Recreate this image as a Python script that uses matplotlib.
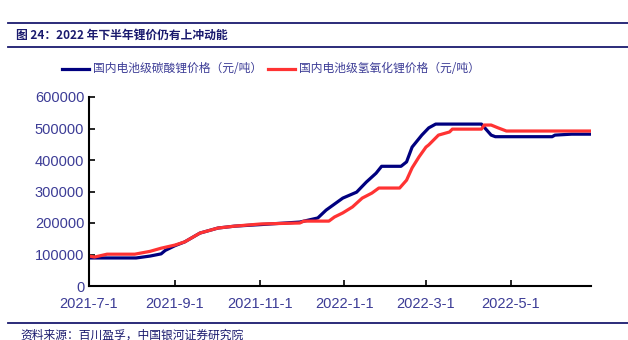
import matplotlib
matplotlib.use("Agg")
import matplotlib.pyplot as plt
import pandas as pd
from matplotlib.lines import Line2D

plt.rcParams['font.family'] = ['Liberation Sans', 'Noto Sans CJK SC', 'DejaVu Sans']

# 国内电池级碳酸锂价格 (元/吨)
carb_dates = ['2021-07-01', '2021-08-04', '2021-08-14', '2021-08-22', '2021-08-25', '2021-09-01',
              '2021-09-08', '2021-09-19', '2021-10-02', '2021-10-14', '2021-11-02', '2021-11-30',
              '2021-12-13', '2021-12-19', '2021-12-31', '2022-01-10', '2022-01-17', '2022-01-24',
              '2022-01-28', '2022-02-11', '2022-02-15', '2022-02-19', '2022-02-26', '2022-03-03',
              '2022-03-08', '2022-04-10', '2022-04-17', '2022-04-20', '2022-05-31', '2022-06-02',
              '2022-06-14', '2022-06-27']
carb_vals = [89000, 89000, 95000, 102000, 113000, 128000,
             140000, 168000, 184000, 190000, 195000, 203000,
             216000, 241000, 279000, 298000, 330000, 358000,
             380000, 380000, 394000, 441000, 479000, 502000,
             514000, 514000, 479000, 474000, 474000, 479000,
             482000, 482000]

# 国内电池级氢氧化锂价格 (元/吨)
hydr_dates = ['2021-07-01', '2021-07-05', '2021-07-14', '2021-08-03', '2021-08-14', '2021-08-22',
              '2021-09-01', '2021-09-08', '2021-09-19', '2021-10-02', '2021-10-14', '2021-11-02',
              '2021-11-30', '2021-12-03', '2021-12-21', '2021-12-25', '2021-12-31', '2022-01-07',
              '2022-01-14', '2022-01-21', '2022-01-26', '2022-02-10', '2022-02-15', '2022-02-19',
              '2022-02-24', '2022-03-01', '2022-03-03', '2022-03-10', '2022-03-18', '2022-03-20',
              '2022-04-10', '2022-04-12', '2022-04-17', '2022-04-22', '2022-04-28', '2022-06-27']
hydr_vals = [95000, 92000, 101000, 101000, 110000, 120000,
             130000, 140000, 168000, 184000, 190000, 197000,
             200000, 206000, 206000, 219000, 232000, 251000,
             279000, 295000, 311000, 311000, 336000, 375000,
             410000, 441000, 448000, 479000, 489000, 498000,
             498000, 511000, 511000, 502000, 492000, 492000]

tick_dates = ['2021-07-01', '2021-09-01', '2021-11-01', '2022-01-01', '2022-03-01', '2022-05-01']
tick_labels = ['2021-7-1', '2021-9-1', '2021-11-1', '2022-1-1', '2022-3-1', '2022-5-1']
y_ticks = [0, 100000, 200000, 300000, 400000, 500000, 600000]

navy = '#00007f'
red = '#ff3333'
txt = '#3c3c96'

fig = plt.figure(figsize=(6.28, 3.40), dpi=100)
ax = fig.add_axes([89 / 628, 1 - 286 / 340, (591 - 89) / 628, (286 - 97) / 340])

ax.plot(pd.to_datetime(carb_dates), carb_vals, color=navy, lw=2.3)
ax.plot(pd.to_datetime(hydr_dates), hydr_vals, color=red, lw=2.3)

ax.set_ylim(0, 600000)
ax.set_xlim(pd.Timestamp('2021-07-01'), pd.Timestamp('2022-06-28'))
ax.set_yticks(y_ticks)
ax.set_yticklabels([str(v) for v in y_ticks])
ax.set_xticks(pd.to_datetime(tick_dates))
ax.set_xticklabels(tick_labels)
ax.tick_params(direction='in', length=4, width=1.2, colors='black', labelcolor=txt,
               labelsize=10.5)
ax.tick_params(axis='x', pad=8)
for s in ['top', 'right']:
    ax.spines[s].set_visible(False)
for s in ['left', 'bottom']:
    ax.spines[s].set_linewidth(1.5)

# header / footer rules
for yy in [23, 47, 323]:
    fig.add_artist(Line2D([8 / 628, 1], [1 - yy / 340] * 2, color='#1a1a6e', lw=1.3))

fig.text(16 / 628, 1 - 35 / 340, '图 24：2022 年下半年锂价仍有上冲动能',
         family=['Noto Sans CJK SC'], fontweight='bold', fontsize=8.5,
         color='#1a1a6e', va='center')
fig.text(20 / 628, 1 - 335 / 340, '资料来源：百川盈孚，中国银河证券研究院',
         family=['Noto Sans CJK SC'], fontsize=8.5, color='#1a1a6e', va='center')

# legend
for x0, x1, col, lab in [(62, 89, navy, '国内电池级碳酸锂价格（元/吨）'),
                         (268, 295, red, '国内电池级氢氧化锂价格（元/吨）')]:
    fig.add_artist(Line2D([x0 / 628, x1 / 628], [1 - 69 / 340] * 2, color=col, lw=2.3))
    fig.text((x1 + 4) / 628, 1 - 69 / 340, lab, family=['Noto Sans CJK SC'],
             fontsize=8.5, color=txt, va='center')

fig.savefig('out.png', dpi=100)
